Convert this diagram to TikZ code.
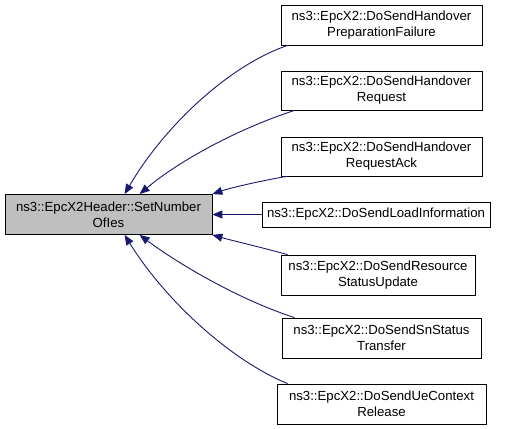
\documentclass[tikz,border=0pt]{standalone}
\usepackage{fontspec}
\setmainfont{Liberation Sans}
\usetikzlibrary{arrows.meta}
\definecolor{edgeblue}{HTML}{191970}
\definecolor{mainfill}{HTML}{BFBFBF}
\tikzset{
  box/.style={draw=black, line width=0.8pt, fill=white, align=center, inner sep=0pt,
    font=\fontsize{13.2}{16}\selectfont},
  mainbox/.style={box, fill=mainfill},
  edge/.style={draw=edgeblue, line width=0.9pt, -{Triangle[length=10pt,width=8pt]}},
}
\begin{document}
\begin{tikzpicture}[x=1pt,y=-1pt]
\useasboundingbox (0,0) rectangle (507,429);
\node[mainbox, minimum width=207pt, minimum height=40pt] (main) at (108.5,214.5) {ns3::EpcX2Header::SetNumber\\OfIes};
\node[box, minimum width=201pt, minimum height=40pt] (n1) at (381.5,25) {ns3::EpcX2::DoSendHandover\\PreparationFailure};
\node[box, minimum width=201pt, minimum height=39pt] (n2) at (381.5,90.5) {ns3::EpcX2::DoSendHandover\\Request};
\node[box, minimum width=201pt, minimum height=39pt] (n3) at (381.5,156.5) {ns3::EpcX2::DoSendHandover\\RequestAck};
\node[box, minimum width=228pt, minimum height=25pt] (n4) at (376,214.5) {ns3::EpcX2::DoSendLoadInformation};
\node[box, minimum width=194pt, minimum height=40pt] (n5) at (378,275) {ns3::EpcX2::DoSendResource\\StatusUpdate};
\node[box, minimum width=199pt, minimum height=40pt] (n6) at (381.5,338) {ns3::EpcX2::DoSendSnStatus\\Transfer};
\node[box, minimum width=209pt, minimum height=40pt] (n7) at (381.5,404) {ns3::EpcX2::DoSendUeContext\\Release};

\draw[edge] ([xshift=7pt]n1.south west) .. controls (230,65) and (165,125) .. ([xshift=120pt]main.north west);
\draw[edge] ([xshift=14pt]n2.south west) .. controls (240,128) and (180,160) .. ([xshift=135pt]main.north west);
\draw[edge] ([xshift=6pt]n3.south west) .. controls (260,181) and (230,188) .. (main.north east);
\draw[edge] (n4.west) -- (main.east);
\draw[edge] ([xshift=7pt]n5.north west) .. controls (260,247) and (230,240) .. (main.south east);
\draw[edge] ([xshift=13pt]n6.north west) .. controls (240,300) and (180,265) .. ([xshift=135pt]main.south west);
\draw[edge] ([xshift=11pt]n7.north west) .. controls (230,360) and (165,300) .. ([xshift=120pt]main.south west);
\end{tikzpicture}
\end{document}
